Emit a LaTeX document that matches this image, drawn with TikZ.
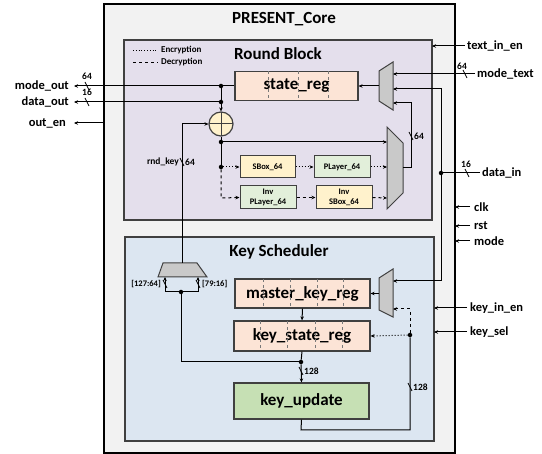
\documentclass[tikz,border=0pt]{standalone}
\usepackage{fontspec}
\setmainfont{Carlito}
\usetikzlibrary{arrows.meta,calc}
\definecolor{coreFill}{HTML}{F2F2F2}
\definecolor{rbFill}{HTML}{E4DFEC}
\definecolor{ksFill}{HTML}{DCE6F1}
\definecolor{regFill}{HTML}{FCE4D6}
\definecolor{sbFill}{HTML}{FFF2CC}
\definecolor{plFill}{HTML}{E2EFDA}
\definecolor{kuFill}{HTML}{C6E0B4}
\definecolor{muxFill}{HTML}{C9C9C9}
\definecolor{edge}{HTML}{404040}
\begin{document}
\begin{tikzpicture}[x=1pt,y=-1pt,
  >={Stealth[length=4pt,width=3.5pt]},
  wire/.style={line width=1pt,black},
  enc/.style={wire,dotted},
  dec/.style={wire,dashed},
  blk/.style={draw=edge,line width=1.2pt,inner sep=0pt,font=\bfseries\fontsize{17}{19}\selectfont},
  regbox/.style={blk,fill=regFill},
  small/.style={blk,line width=1pt,font=\bfseries\fontsize{8.5}{10}\selectfont,align=center},
  muxshape/.style={draw=edge,line width=1pt,fill=muxFill},
  dot/.style={circle,fill=black,inner sep=0pt,minimum size=4.5pt},
  io/.style={font=\bfseries\fontsize{12.5}{14}\selectfont,inner sep=1pt},
  tiny/.style={font=\bfseries\fontsize{9.5}{11}\selectfont,inner sep=1pt},
  ttl/.style={font=\bfseries\fontsize{17}{20}\selectfont},
  inner/.style={edge!70,dashed,line width=0.5pt}]
\useasboundingbox (0,0) rectangle (542,454);
% containers
\draw[line width=1.8pt,fill=coreFill] (104,4) rectangle (455,453);
\draw[draw=edge,line width=1.3pt,fill=rbFill] (124,40) rectangle (432,220);
\draw[draw=edge,line width=1.3pt,fill=ksFill] (125,237) rectangle (434,441);
\node[ttl] (tcore) at (284,19) {PRESENT\_Core};
\node[ttl] (trb) at (278,54) {Round Block};
\node[ttl] (tks) at (279,252) {Key Scheduler};
% legend
\coordinate (le1) at (133,50); \coordinate (le2) at (158,50);
\coordinate (ld1) at (133,62); \coordinate (ld2) at (158,62);
\draw[line width=0.8pt,dotted] (le1) -- (le2);
\draw[line width=0.8pt,dashed] (ld1) -- (ld2);
\node[tiny,anchor=west,font=\bfseries\fontsize{9}{10}\selectfont] (lenc) at (160,50) {Encryption};
\node[tiny,anchor=west,font=\bfseries\fontsize{9}{10}\selectfont] (ldec) at (160,62) {Decryption};
% blocks
\node[regbox,minimum width=123pt,minimum height=29pt] (sr) at (296.5,86) {state\_reg};
\foreach \x in {268,298,328}{\draw[inner] (\x,71.5) -- (\x,100.5);}
\node[small,fill=sbFill,minimum width=55pt,minimum height=22pt] (sb) at (267.5,167) {SBox\_64};
\node[small,fill=plFill,minimum width=56pt,minimum height=22pt] (pl) at (342,167) {PLayer\_64};
\node[small,fill=plFill,minimum width=56pt,minimum height=23pt] (ipl) at (268,197.5) {Inv\\PLayer\_64};
\node[small,fill=sbFill,minimum width=56pt,minimum height=23pt] (isb) at (344,197.5) {Inv\\SBox\_64};
\node[regbox,minimum width=135pt,minimum height=29pt] (mk) at (302.5,293.5) {master\_key\_reg};
\foreach \x in {263,290,317,343}{\draw[inner] (\x,279.5) -- (\x,308);}
\node[regbox,minimum width=136pt,minimum height=30pt] (ksr) at (302,336) {key\_state\_reg};
\foreach \x in {260,287,315,342}{\draw[inner] (\x,321.5) -- (\x,350.5);}
\node[blk,fill=kuFill,minimum width=135pt,minimum height=36pt] (ku) at (301.5,401) {key\_update};
% xor
\node[circle,draw=edge,line width=1.2pt,fill=sbFill,minimum size=24pt,inner sep=0pt,
  path picture={\draw[edge,line width=1pt] (path picture bounding box.north) -- (path picture bounding box.south)
  (path picture bounding box.west) -- (path picture bounding box.east);}] (xor) at (221,124) {};
% muxes
\draw[muxshape] (379,71) -- (393,62) -- (393,110) -- (379,101) -- cycle;
\coordinate (m1o) at (379,86); \coordinate (m1a) at (393,74); \coordinate (m1b) at (393,89); \coordinate (m1c) at (393,103);
\draw[muxshape] (387,127) -- (403,143) -- (403,193) -- (387,209) -- cycle;
\coordinate (m2o) at (403,168); \coordinate (m2a) at (387,142); \coordinate (m2b) at (387,167); \coordinate (m2c) at (387,198);
\draw[muxshape] (379,278) -- (393,269) -- (393,317) -- (379,310) -- cycle;
\coordinate (m3o) at (379,293.5); \coordinate (m3a) at (393,281); \coordinate (m3b) at (393,309);
\draw[muxshape] (163,263) -- (197,263) -- (207,277) -- (158,277) -- cycle;
\coordinate (m4o) at (182,263); \coordinate (m4a) at (165,277); \coordinate (m4b) at (198,277);
% left side outputs
\coordinate (mo) at (74,86); \coordinate (do) at (74,102); \coordinate (oe) at (74,123); \coordinate (oes) at (104,123);
\node[io,anchor=east] (lmo) at (70,86) {mode\_out};
\node[io,anchor=east] (ldo) at (70,102) {data\_out};
\node[io,anchor=east] (loe) at (67,123) {out\_en};
\node[dot] (j1) at (221,86) {};
\node[dot] (j2) at (221,102) {};
\draw[wire,->] (sr.west) -- (mo);
\draw[wire,->] (j2) -- (do);
\draw[wire,->] (oes) -- (oe);
\draw[wire,->] (j1) -- (xor.north);
% datapath
\node[dot] (j3) at (221,142) {};
\node[dot] (j4) at (221,167) {};
\coordinate (j5) at (221,198);
\draw[wire] (xor.south) -- (j3);
\draw[wire,->] (j3) -- (m2a);
\draw[wire] (j3) -- (j4);
\draw[enc,->] (j4) -- (sb.west);
\draw[dec,->] (j4) -- (j5) -- (ipl.west);
\draw[enc,->] (sb.east) -- (pl.west);
\draw[enc,->] (pl.east) -- (m2b);
\draw[dec,->] (ipl.east) -- (isb.west);
\draw[dec,->] (isb.east) -- (m2c);
\draw[wire,->] (m2o) -- (411,168) -- (411,103) -- (m1c);
\draw[wire,->] (m1o) -- (sr.east);
% right side inputs
\coordinate (tie) at (465,46); \coordinate (tiee) at (432,46);
\node[io,anchor=west] (ltie) at (466,46) {text\_in\_en};
\draw[wire,->] (tie) -- (tiee);
\coordinate (mt) at (475,74);
\node[io,anchor=west] (lmt) at (476,74) {mode\_text};
\draw[wire,->] (mt) -- (m1a);
\coordinate (di) at (480,173);
\node[io,anchor=west] (ldi) at (481,173) {data\_in};
\node[dot] (dj) at (441,173) {};
\draw[wire] (di) -- (dj);
\draw[wire,->] (dj) -- (441,89) -- (m1b);
\draw[wire,->] (dj) -- (441,281) -- (m3a);
\foreach \n/\y/\t in {clk/207/clk,rst/226/rst,mode/241/mode}{
  \coordinate (\n s) at (470,\y); \coordinate (\n e) at (455,\y);
  \node[io,anchor=west] (l\n) at (473,\y) {\t};
  \draw[wire,->] (\n s) -- (\n e);}
\coordinate (kie) at (467,308); \coordinate (kiee) at (434,308);
\node[io,anchor=west] (lkie) at (469,308) {key\_in\_en};
\draw[wire,->] (kie) -- (kiee);
\coordinate (ks) at (467,332); \coordinate (kse) at (434,332);
\node[io,anchor=west] (lks) at (469,332) {key\_sel};
\draw[wire,->] (ks) -- (kse);
% rnd key
\draw[wire,->] (m4o) -- (182,124) -- (xor.west);
% key scheduler
\draw[wire,->] (m3o) -- (mk.east);
\draw[wire,->] (mk.south) -- (ksr.north);
\node[dot] (kj) at (301,362) {};
\draw[wire] (ksr.south) -- (kj);
\draw[wire,->] (kj) -- (ku.north);
\node[dot] (kb) at (181,292) {};
\draw[wire] (kj) -- (181,362) -- (kb);
\draw[wire,->] (kb) -- (165,292) -- (m4a);
\draw[wire,->] (kb) -- (198,292) -- (m4b);
\node[dot] (kd) at (410,335) {};
\draw[wire] (ku.south) -- (301,430) -- (410,430) -- (kd);
\draw[enc,->] (kd) -- (ksr.east);
\draw[dec,->] (kd) -- (410,309) -- (m3b);
% bus width slashes
\foreach \x/\y in {87/86,87/102,465/74,411/136,182/162,467/173,165/284,198/284,301/371,410/387}{
  \draw[line width=0.8pt] (\x-2,\y-4) -- (\x+2,\y+4);}
\node[tiny] (w1) at (87,76) {64};
\node[tiny] (w2) at (87,92) {16};
\node[tiny] (w3) at (462,66) {64};
\node[tiny,anchor=west] (w4) at (413,136) {64};
\node[tiny,anchor=west] (w5) at (184,162) {64};
\node[tiny,anchor=east] (w5l) at (180,162) {rnd\_key};
\node[tiny] (w6) at (466,164) {16};
\node[tiny,anchor=east,font=\bfseries\fontsize{8.5}{9}\selectfont] (w7) at (162,284) {[127:64]};
\node[tiny,anchor=west,font=\bfseries\fontsize{8.5}{9}\selectfont] (w8) at (201,284) {[79:16]};
\node[tiny,anchor=west] (w9) at (303,371) {128};
\node[tiny,anchor=west] (w10) at (412,387) {128};
\end{tikzpicture}
\end{document}
